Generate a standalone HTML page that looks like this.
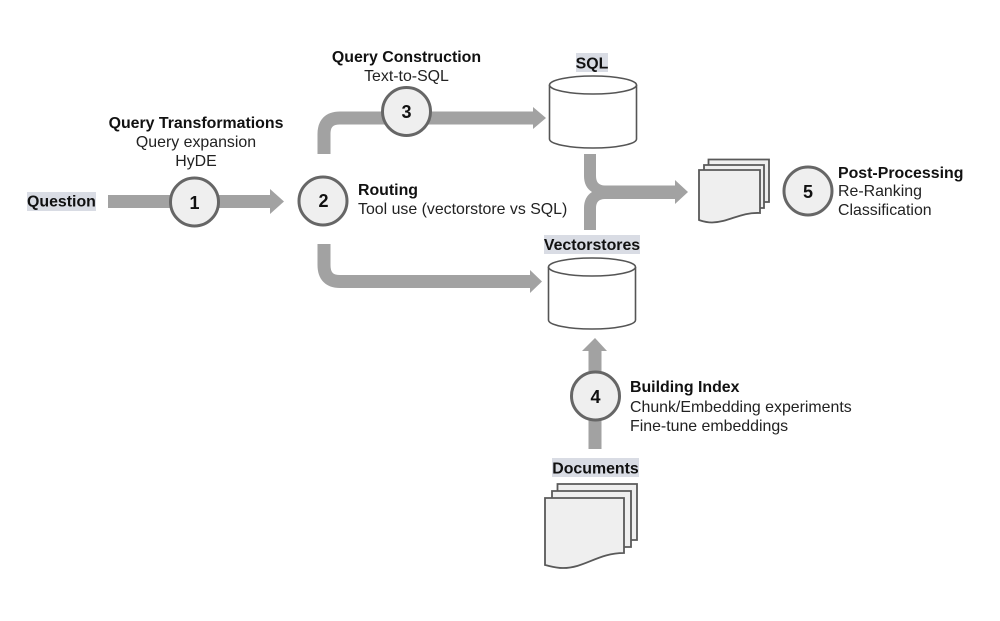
<!DOCTYPE html>
<html>
<head>
<meta charset="utf-8">
<style>
html,body{margin:0;padding:0;background:#fff;width:1000px;height:621px;overflow:hidden}
svg{display:block}
text{font-family:"Liberation Sans",Arial,sans-serif;font-size:15.9px;fill:#222}
.b{font-weight:bold;fill:#111}
.m{text-anchor:middle}
.n{font-weight:bold;font-size:18px;text-anchor:middle;fill:#111}
.c{fill:#efefef;stroke:#666;stroke-width:3}
.a{fill:none;stroke:#a2a2a2;stroke-width:13}
.h{fill:#a2a2a2}
.cy{fill:#fff;stroke:#555;stroke-width:1.6}
.d{fill:#efefef;stroke:#595959;stroke-width:1.8}
.l{fill:#d9dce4}
</style>
</head>
<body>
<svg width="1000" height="621" viewBox="0 0 1000 621" xmlns="http://www.w3.org/2000/svg">
<rect width="1000" height="621" fill="#fff"/>

<!-- arrows -->
<path class="a" d="M108 201.5H272"/>
<polygon class="h" points="270,189 284,201.5 270,214"/>
<path class="a" d="M324 154V134Q324 118 340 118H535"/>
<polygon class="h" points="533,107 546,118 533,129"/>
<path class="a" d="M324 244V265Q324 281.5 340 281.5H532"/>
<polygon class="h" points="530,270 542,281.5 530,293"/>
<path class="h" d="M584 154H596V176Q596 185.500 605 185.500H677V199H605Q596 199 596 208V230H584V208Q584 197 592 192Q584 187 584 176Z"/>
<polygon class="h" points="675,180 688,192 675,204"/>
<path class="a" d="M595 449V349"/>
<polygon class="h" points="582,351 595,338 607,351"/>

<!-- label highlights -->
<rect class="l" x="27" y="192" width="69" height="19"/>
<rect class="l" x="576" y="53" width="32" height="19"/>
<rect class="l" x="544" y="235" width="96" height="19"/>
<rect class="l" x="552" y="458" width="87" height="19"/>

<!-- cylinders -->
<path class="cy" d="M549.500 85V139C549.500 144 569 148 593 148S636.500 144 636.500 139V85"/>
<ellipse class="cy" cx="593" cy="85" rx="43.500" ry="9"/>
<path class="cy" d="M548.500 267V320C548.500 325 568 329 592 329S635.500 325 635.500 320V267"/>
<ellipse class="cy" cx="592" cy="267" rx="43.500" ry="9"/>

<!-- small docs -->
<path class="d" d="M708.500 159.500H769V202H708.500Z"/>
<path class="d" d="M704 165H764V208H704Z"/>
<path class="d" d="M699 170H760V213C740 212 730 222 712 222.500C706 222.500 702 221 699 220Z"/>

<!-- large docs -->
<path class="d" d="M557.500 484H637V540H557.500Z"/>
<path class="d" d="M552 491H631V547H552Z"/>
<path class="d" d="M545 498H624V553C598 553 585 568 563 568C555 568 550 566 545 565Z"/>

<!-- circles -->
<circle class="c" cx="194.500" cy="202" r="24"/>
<circle class="c" cx="323" cy="201" r="24"/>
<circle class="c" cx="406.500" cy="111.500" r="24"/>
<circle class="c" cx="595.500" cy="396" r="24"/>
<circle class="c" cx="808" cy="191" r="24"/>
<text class="n" x="194.500" y="209">1</text>
<text class="n" x="323.500" y="207">2</text>
<text class="n" x="406.500" y="118">3</text>
<text class="n" x="595.500" y="403">4</text>
<text class="n" x="808" y="198">5</text>

<!-- labels -->
<text class="b" x="27" y="206.500">Question</text>
<text class="b m" x="592" y="68.500">SQL</text>
<text class="b m" x="592" y="250">Vectorstores</text>
<text class="b m" x="595.500" y="473.500">Documents</text>

<text class="b m" x="196" y="128">Query Transformations</text>
<text class="m" x="196" y="147">Query expansion</text>
<text class="m" x="196" y="166">HyDE</text>

<text class="b m" x="406.500" y="62">Query Construction</text>
<text class="m" x="406.500" y="81">Text-to-SQL</text>

<text class="b" x="358" y="195">Routing</text>
<text x="358" y="214">Tool use (vectorstore vs SQL)</text>

<text class="b" x="838" y="178">Post-Processing</text>
<text x="838" y="196">Re-Ranking</text>
<text x="838" y="215">Classification</text>

<text class="b" x="630" y="392">Building Index</text>
<text x="630" y="412">Chunk/Embedding experiments</text>
<text x="630" y="431">Fine-tune embeddings</text>
</svg>
</body>
</html>
